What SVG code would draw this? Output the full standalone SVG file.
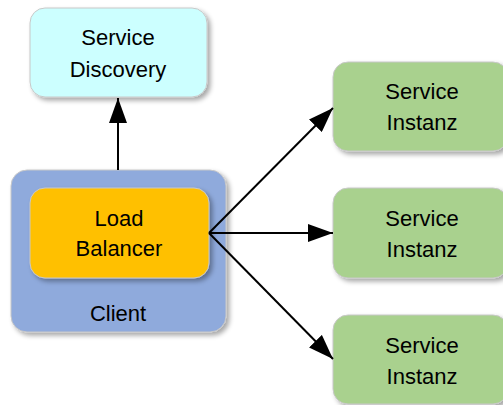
<svg xmlns="http://www.w3.org/2000/svg" width="503" height="405" viewBox="0 0 503 405">
  <style>
    .box { stroke: #c8c8c8; stroke-width: 1; filter: url(#shadow); }
    .label { font-family: "Liberation Sans", Arial, sans-serif; font-size: 22px; fill: #000; text-anchor: middle; dominant-baseline: central; }
    .conn { stroke: #000; stroke-width: 2; fill: none; marker-end: url(#arrow); }
  </style>
  <defs>
    <filter id="shadow" x="-20%" y="-20%" width="150%" height="150%">
      <feGaussianBlur in="SourceAlpha" stdDeviation="2.5"/>
      <feOffset dx="3" dy="3" result="off"/>
      <feComponentTransfer><feFuncA type="linear" slope="0.35"/></feComponentTransfer>
      <feMerge><feMergeNode/><feMergeNode in="SourceGraphic"/></feMerge>
    </filter>
    <marker id="arrow" viewBox="0 0 25 18" refX="25" refY="9" markerWidth="25" markerHeight="18" markerUnits="userSpaceOnUse" orient="auto">
      <path d="M0,0 L25,9 L0,18 Z" fill="#000"/>
    </marker>
  </defs>

  <rect width="503" height="405" fill="#fff"/>

  <g id="service-discovery">
    <rect class="box" x="30" y="8" width="177" height="89" rx="15" fill="#ccffff"/>
    <text class="label" x="118" y="37">Service</text>
    <text class="label" x="118" y="69">Discovery</text>
  </g>

  <g id="client">
    <rect class="box" x="11" y="170" width="215" height="162" rx="16" fill="#8faadc"/>
    <text class="label" x="118" y="313">Client</text>
  </g>

  <g id="load-balancer">
    <rect class="box" x="30" y="188" width="179" height="90" rx="15" fill="#ffc000"/>
    <text class="label" x="119" y="218">Load</text>
    <text class="label" x="119" y="248">Balancer</text>
  </g>

  <g id="instance-1">
    <rect class="box" x="333" y="62" width="175" height="89" rx="15" fill="#a9d18e"/>
    <text class="label" x="422" y="91">Service</text>
    <text class="label" x="422" y="122">Instanz</text>
  </g>

  <g id="instance-2">
    <rect class="box" x="333" y="188" width="175" height="90" rx="15" fill="#a9d18e"/>
    <text class="label" x="422" y="218">Service</text>
    <text class="label" x="422" y="249">Instanz</text>
  </g>

  <g id="instance-3">
    <rect class="box" x="333" y="315" width="175" height="89" rx="15" fill="#a9d18e"/>
    <text class="label" x="422" y="345">Service</text>
    <text class="label" x="422" y="376">Instanz</text>
  </g>

  <g id="connectors">
    <line class="conn" x1="118" y1="170" x2="118" y2="98"/>
    <line class="conn" x1="209" y1="233" x2="333" y2="108"/>
    <line class="conn" x1="209" y1="233" x2="333" y2="233"/>
    <line class="conn" x1="209" y1="233" x2="333" y2="359"/>
  </g>
</svg>
